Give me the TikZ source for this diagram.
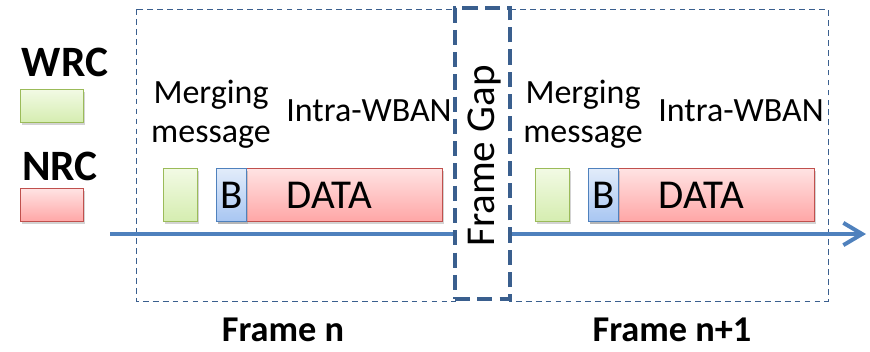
\documentclass[tikz,border=0pt]{standalone}
\usepackage{fontspec}
\setmainfont{Carlito}
\usetikzlibrary{arrows.meta,shadows}
\definecolor{wrcline}{HTML}{9BBB59}
\definecolor{wrctop}{HTML}{F2FAE4}
\definecolor{wrcbot}{HTML}{D5EDB0}
\definecolor{nrcline}{HTML}{C0504D}
\definecolor{nrctop}{HTML}{FFE3E3}
\definecolor{nrcbot}{HTML}{FFA6A6}
\definecolor{btop}{HTML}{E2ECFA}
\definecolor{bbot}{HTML}{A8C6F2}
\definecolor{axisblue}{HTML}{4F81BD}
\definecolor{gapblue}{HTML}{3A5F8E}

\begin{document}
\begin{tikzpicture}[x=0.03cm, y=-0.03cm,
  every node/.style={inner sep=0pt},
  frame/.style={draw=gapblue, line width=0.8pt, dash pattern=on 5pt off 3.5pt},
  gapbox/.style={draw=gapblue, fill=white, line width=3.4pt, dash pattern=on 13pt off 6pt},
  slot/.style={anchor=north west, line width=1pt, drop shadow={opacity=0.35, shadow xshift=1.5pt, shadow yshift=-2pt}},
  wrc/.style={slot, draw=wrcline, top color=wrctop, bottom color=wrcbot},
  nrc/.style={slot, draw=nrcline, top color=nrctop, bottom color=nrcbot},
  bcn/.style={slot, draw=axisblue, top color=btop, bottom color=bbot},
  big/.style={font=\fontsize{35}{40}\selectfont},
  txt/.style={font=\fontsize{29}{33}\selectfont, align=center},
  bold/.style={font=\fontsize{37}{42}\selectfont\bfseries}]
\useasboundingbox (0,0) rectangle (870,351);

\node[bold] (wrclabel) at (65,62) {WRC};
\node[wrc, minimum width=1.89cm, minimum height=0.99cm] (wrckey) at (20,89) {};
\node[bold] (nrclabel) at (60,166) {NRC};
\node[nrc, minimum width=1.89cm, minimum height=0.99cm] (nrckey) at (20,188) {};

\draw[frame] (136,9) rectangle (455,301);
\draw[frame] (509,9) rectangle (828,301);

\coordinate (axisstart) at (110,234);
\coordinate (axisend) at (866,234);
\draw[axisblue, line width=3.4pt, -{Straight Barb[length=16pt, width=19pt]}] (axisstart) -- (axisend);

\foreach \off/\nm in {0/a, 372/b} {
  \begin{scope}[xshift=\off*0.03cm]
    \node[txt] (merge\nm) at (211,114) {Merging\\message};
    \node[txt] (intra\nm) at (369,111) {Intra-WBAN};
    \node[wrc, minimum width=1.02cm, minimum height=1.59cm] (wrc\nm) at (163,168) {};
    \node[nrc, big, minimum width=6.78cm, minimum height=1.59cm] (data\nm) at (216,168) {DATA};
    \node[bcn, big, minimum width=0.9cm, minimum height=1.59cm] (bcn\nm) at (216,168) {B};
  \end{scope}
}

\node[gapbox, minimum width=1.65cm, minimum height=8.73cm] (gap) at (482.5,153.5) {};
\node[font=\fontsize{35}{40}\selectfont, rotate=90] (gaplabel) at (484,156) {Frame Gap};

\node[font=\fontsize{31}{36}\selectfont\bfseries] (framea) at (283,330) {Frame n};
\node[font=\fontsize{31}{36}\selectfont\bfseries] (frameb) at (672,330) {Frame n+1};
\end{tikzpicture}
\end{document}
